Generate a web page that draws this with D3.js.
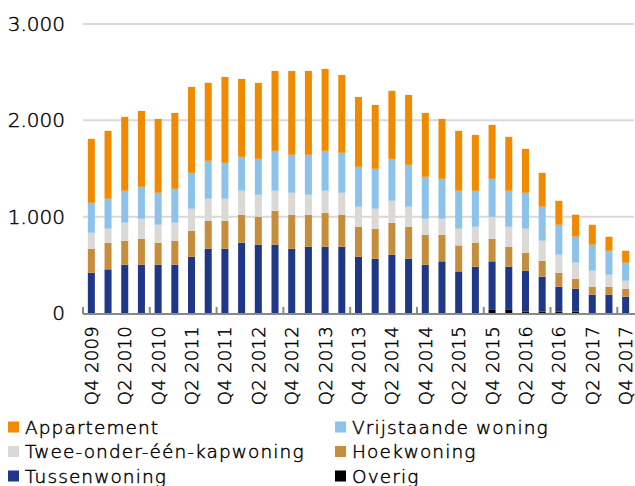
<!DOCTYPE html>
<html>
<head>
<meta charset="utf-8">
<script src="https://cdn.jsdelivr.net/npm/d3@7"></script>
<style>
  html, body { margin: 0; padding: 0; background: #fff; }
  svg text { font-family: "DejaVu Sans", sans-serif; fill: #000; font-weight: 200;
             stroke: #000; stroke-width: 0.45px; }
</style>
</head>
<body>
<svg id="chart" width="635" height="486"></svg>
<script>
// Quarters shown on the x axis
const quarters = [
  "Q4 2009","Q1 2010","Q2 2010","Q3 2010","Q4 2010","Q1 2011","Q2 2011","Q3 2011",
  "Q4 2011","Q1 2012","Q2 2012","Q3 2012","Q4 2012","Q1 2013","Q2 2013","Q3 2013",
  "Q4 2013","Q1 2014","Q2 2014","Q3 2014","Q4 2014","Q1 2015","Q2 2015","Q3 2015",
  "Q4 2015","Q1 2016","Q2 2016","Q3 2016","Q4 2016","Q1 2017","Q2 2017","Q3 2017",
  "Q4 2017"
];

// Number of dwellings per type and quarter
const overig = [0,0,0,0,0,0,0,0,0,0,0,0,0,0,0,0,0,0,0,0,0,0,0,0,38,38,15,15,15,15,0,0,0];
const tussenwoning = [418,453,501,501,501,501,584,667,667,729,709,709,667,688,688,688,584,563,605,563,501,536,432,480,498,442,424,362,258,237,190,190,169];
const hoekwoning = [249,276,249,270,228,249,270,290,290,291,290,352,353,332,352,332,311,312,332,332,311,276,270,249,235,208,187,166,145,104,83,83,83];
const tweeOnderEenKap = [166,146,187,207,187,187,228,229,229,249,228,208,228,207,229,228,208,207,228,208,166,166,173,166,228,207,249,207,187,166,166,125,83];
const vrijstaand = [311,311,332,332,332,352,373,394,373,352,373,414,394,415,414,415,414,415,435,435,436,415,394,374,394,374,373,353,311,270,270,248,187];
const appartement = [664,705,767,788,767,788,892,809,892,809,789,830,871,871,851,808,726,663,706,726,663,622,622,580,560,560,456,352,249,228,207,146,124];

// Y axis ticks
const yTicks = [0, 1000, 2000, 3000];

// Series, stacked bottom to top
const series = [
  { key: "Overig", values: overig, color: "#000000" },
  { key: "Tussenwoning", values: tussenwoning, color: "#1F3787" },
  { key: "Hoekwoning", values: hoekwoning, color: "#C68E3C" },
  { key: "Twee-onder-één-kapwoning", values: tweeOnderEenKap, color: "#DAD9D5" },
  { key: "Vrijstaande woning", values: vrijstaand, color: "#8DC3EA" },
  { key: "Appartement", values: appartement, color: "#F08A00" }
];

// Legend layout: rows of two
const legendOrder = [
  "Appartement", "Vrijstaande woning",
  "Twee-onder-één-kapwoning", "Hoekwoning",
  "Tussenwoning", "Overig"
];

const svg = d3.select("#chart");
const plotLeft = 83, plotRight = 634, plotTop = 24, plotBottom = 313;

const rows = quarters.map((q, i) => {
  const r = { q };
  series.forEach(s => r[s.key] = s.values[i]);
  return r;
});

const x = d3.scaleBand().domain(quarters).range([plotLeft, plotRight])
  .paddingInner(0.58).paddingOuter(0.29);
const y = d3.scaleLinear().domain([0, 3000]).range([plotBottom, plotTop]);
const fmt = d3.format(",");
const nlFormat = v => fmt(v).replace(/,/g, ".");

// Gridlines
svg.append("g").selectAll("line").data(yTicks.filter(d => d > 0)).join("line")
  .attr("x1", plotLeft).attr("x2", plotRight)
  .attr("y1", d => y(d)).attr("y2", d => y(d))
  .attr("stroke", "#D9D9D9").attr("stroke-width", 2);

// Y tick labels
svg.append("g").selectAll("text").data(yTicks).join("text")
  .attr("x", 65).attr("y", d => y(d))
  .attr("text-anchor", "end").attr("dominant-baseline", "central")
  .style("font-size", "20px")
  .text(nlFormat);

// Stacked bars
const stack = d3.stack().keys(series.map(s => s.key))(rows);
svg.append("g").selectAll("g").data(stack).join("g")
  .attr("fill", (d, i) => series[i].color)
  .selectAll("rect").data(d => d).join("rect")
  .attr("x", d => x(d.data.q))
  .attr("width", x.bandwidth())
  .attr("y", d => y(d[1]))
  .attr("height", d => Math.max(0, y(d[0]) - y(d[1])));

// X axis baseline and tick marks (every fourth quarter)
const step = x.step();
svg.append("line")
  .attr("x1", plotLeft).attr("x2", plotRight + 1)
  .attr("y1", plotBottom + 1).attr("y2", plotBottom + 1)
  .attr("stroke", "#898989").attr("stroke-width", 2);
svg.append("g").selectAll("line")
  .data(quarters.filter((q, i) => i % 4 === 0)).join("line")
  .attr("x1", d => x(d) - x.paddingOuter() * step)
  .attr("x2", d => x(d) - x.paddingOuter() * step)
  .attr("y1", plotBottom + 1).attr("y2", plotBottom - 6)
  .attr("stroke", "#898989").attr("stroke-width", 2);

// X labels, every other quarter, rotated
svg.append("g").selectAll("text")
  .data(quarters.filter((q, i) => i % 2 === 0)).join("text")
  .attr("transform", d => `translate(${x(d) + x.bandwidth() / 2},${plotBottom + 13}) rotate(-90)`)
  .attr("text-anchor", "end").attr("dominant-baseline", "central")
  .style("font-size", "18px")
  .style("letter-spacing", "0.3px")
  .text(d => d);

// Legend
const legend = svg.append("g").selectAll("g").data(legendOrder).join("g")
  .attr("transform", (d, i) => `translate(${i % 2 === 0 ? 8 : 335},${427 + Math.floor(i / 2) * 24.5})`);
legend.append("rect")
  .attr("x", 0).attr("y", -5.5).attr("width", 11).attr("height", 11)
  .attr("fill", d => series.find(s => s.key === d).color);
legend.append("text")
  .attr("x", 17).attr("y", 0)
  .attr("dominant-baseline", "central")
  .style("font-size", "18.5px")
  .style("letter-spacing", "1.1px")
  .text(d => d);
</script>
</body>
</html>
